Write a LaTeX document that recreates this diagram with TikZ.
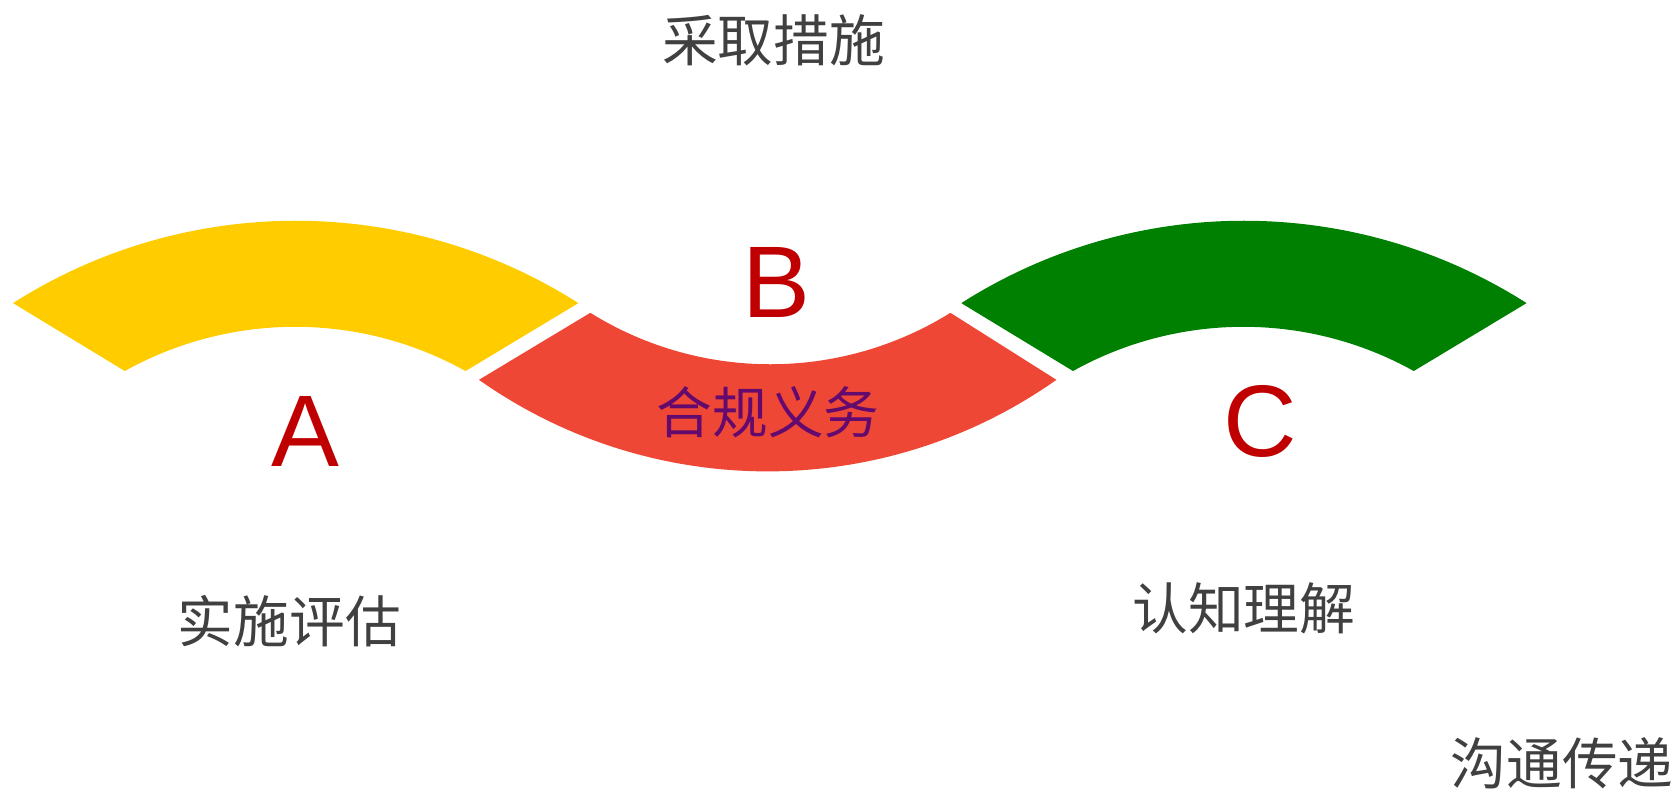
\documentclass[tikz,border=0pt]{standalone}
\usepackage{fontspec}
\setmainfont{Liberation Sans}
\newfontfamily\cjk{Noto Sans CJK SC}
\definecolor{bandyellow}{HTML}{FFCC00}
\definecolor{bandred}{HTML}{EF4735}
\definecolor{bandgreen}{HTML}{008000}
\definecolor{lettered}{HTML}{C00000}
\definecolor{labelgray}{HTML}{404040}
\definecolor{dutypurple}{HTML}{640A6E}
\tikzset{
  letter/.style={text=lettered, font=\fontsize{95}{95}\selectfont, inner sep=0pt},
  caption/.style={text=labelgray, font=\cjk\fontsize{52}{52}\selectfont, inner sep=0pt},
  duty/.style={text=dutypurple, font=\cjk\fontsize{52}{52}\selectfont, inner sep=0pt}
}
\newcommand{\topband}[2]{%
  \fill[#2, shift={(#1,0)}] ([shift={(122.5:491)}]276,40)
    arc[start angle=122.5, end angle=57.5, radius=491]
    -- ([shift={(60.9:327)}]275.5,105)
    arc[start angle=60.9, end angle=119.1, radius=327] -- cycle;}
\begin{document}
\begin{tikzpicture}[x=1pt,y=1pt]
    \useasboundingbox (0,0) rectangle (1568,737);
    \topband{0}{bandyellow}
    \topband{885}{bandgreen}
    \fill[bandred] ([shift={(238.1:318)}]719,715)
      arc[start angle=238.1, end angle=301.9, radius=318]
      -- ([shift={(305.2:467.5)}]716.5,764.5)
      arc[start angle=305.2, end angle=234.8, radius=467.5] -- cycle;
    \node[caption] (act) at (722,699) {采取措施};
    \node[letter] (B) at (725,473) {B};
    \node[letter] (A) at (285,334) {A};
    \node[letter] (C) at (1176,344) {C};
    \node[duty] (duty) at (717,352) {合规义务};
    \node[caption] (eval) at (270,157) {实施评估};
    \node[caption] (know) at (1161,169) {认知理解};
    \node[caption] (comm) at (1458,25) {沟通传递};
\end{tikzpicture}
\end{document}
